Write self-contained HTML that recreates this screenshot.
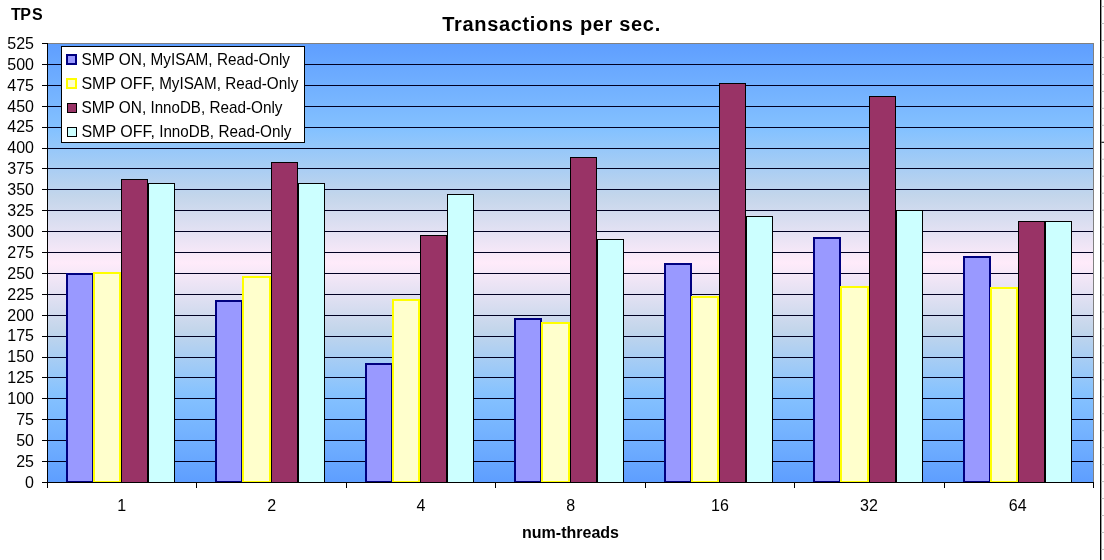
<!DOCTYPE html>
<html><head><meta charset="utf-8"><title>Transactions per sec.</title>
<style>html,body{margin:0;padding:0;background:#fff;}body{width:1104px;height:560px;overflow:hidden;font-family:"Liberation Sans",sans-serif;}svg{display:block;}text{font-family:"Liberation Sans",sans-serif;fill:#000;}svg{will-change:transform;}</style>
</head><body>
<svg width="1104" height="560" viewBox="0 0 1104 560">
<defs><linearGradient id="bg" x1="0" y1="0" x2="0" y2="1">
<stop offset="0" stop-color="#5E9EFF"/>
<stop offset="0.2" stop-color="#85C2FF"/>
<stop offset="0.35" stop-color="#C4D6EB"/>
<stop offset="0.5" stop-color="#FFEBFA"/>
<stop offset="0.65" stop-color="#C4D6EB"/>
<stop offset="0.8" stop-color="#85C2FF"/>
<stop offset="1" stop-color="#5E9EFF"/>
</linearGradient></defs>
<rect x="0" y="0" width="1104" height="560" fill="#fff"/>
<rect x="47.0" y="43.0" width="1047.0" height="439.5" fill="url(#bg)"/>
<rect x="47.0" y="43.0" width="1047.0" height="1" fill="#808080"/>
<rect x="1093.0" y="43.0" width="1" height="439.0" fill="#808080"/>
<g fill="#000">
<rect x="42.0" y="482" width="6" height="1"/>
<rect x="47.0" y="461" width="1046.0" height="1" fill="#000022"/>
<rect x="42.0" y="461" width="6" height="1"/>
<rect x="47.0" y="440" width="1046.0" height="1" fill="#000022"/>
<rect x="42.0" y="440" width="6" height="1"/>
<rect x="47.0" y="419" width="1046.0" height="1" fill="#000022"/>
<rect x="42.0" y="419" width="6" height="1"/>
<rect x="47.0" y="398" width="1046.0" height="1" fill="#000022"/>
<rect x="42.0" y="398" width="6" height="1"/>
<rect x="47.0" y="377" width="1046.0" height="1" fill="#000022"/>
<rect x="42.0" y="377" width="6" height="1"/>
<rect x="47.0" y="357" width="1046.0" height="1" fill="#000022"/>
<rect x="42.0" y="357" width="6" height="1"/>
<rect x="47.0" y="336" width="1046.0" height="1" fill="#000022"/>
<rect x="42.0" y="336" width="6" height="1"/>
<rect x="47.0" y="315" width="1046.0" height="1" fill="#000022"/>
<rect x="42.0" y="315" width="6" height="1"/>
<rect x="47.0" y="294" width="1046.0" height="1" fill="#000022"/>
<rect x="42.0" y="294" width="6" height="1"/>
<rect x="47.0" y="273" width="1046.0" height="1" fill="#000022"/>
<rect x="42.0" y="273" width="6" height="1"/>
<rect x="47.0" y="252" width="1046.0" height="1" fill="#000022"/>
<rect x="42.0" y="252" width="6" height="1"/>
<rect x="47.0" y="231" width="1046.0" height="1" fill="#000022"/>
<rect x="42.0" y="231" width="6" height="1"/>
<rect x="47.0" y="210" width="1046.0" height="1" fill="#000022"/>
<rect x="42.0" y="210" width="6" height="1"/>
<rect x="47.0" y="189" width="1046.0" height="1" fill="#000022"/>
<rect x="42.0" y="189" width="6" height="1"/>
<rect x="47.0" y="168" width="1046.0" height="1" fill="#000022"/>
<rect x="42.0" y="168" width="6" height="1"/>
<rect x="47.0" y="148" width="1046.0" height="1" fill="#000022"/>
<rect x="42.0" y="148" width="6" height="1"/>
<rect x="47.0" y="127" width="1046.0" height="1" fill="#000022"/>
<rect x="42.0" y="127" width="6" height="1"/>
<rect x="47.0" y="106" width="1046.0" height="1" fill="#000022"/>
<rect x="42.0" y="106" width="6" height="1"/>
<rect x="47.0" y="85" width="1046.0" height="1" fill="#000022"/>
<rect x="42.0" y="85" width="6" height="1"/>
<rect x="47.0" y="64" width="1046.0" height="1" fill="#000022"/>
<rect x="42.0" y="64" width="6" height="1"/>
<rect x="42.0" y="43" width="6" height="1"/>
</g>
<g shape-rendering="crispEdges">
<rect x="66" y="273" width="28" height="210" fill="#000080"/>
<rect x="68" y="275" width="24" height="206" fill="#9999FF"/>
<rect x="93" y="272" width="28" height="211" fill="#FFFF00"/>
<rect x="95" y="274" width="24" height="207" fill="#FFFFCC"/>
<rect x="121" y="179" width="27" height="303" fill="#000000"/>
<rect x="122" y="180" width="25" height="302" fill="#993366"/>
<rect x="148" y="183" width="27" height="299" fill="#000000"/>
<rect x="149" y="184" width="25" height="298" fill="#CCFFFF"/>
<rect x="215" y="300" width="28" height="183" fill="#000080"/>
<rect x="217" y="302" width="24" height="179" fill="#9999FF"/>
<rect x="242" y="276" width="29" height="207" fill="#FFFF00"/>
<rect x="244" y="278" width="25" height="203" fill="#FFFFCC"/>
<rect x="271" y="162" width="27" height="320" fill="#000000"/>
<rect x="272" y="163" width="25" height="319" fill="#993366"/>
<rect x="298" y="183" width="27" height="299" fill="#000000"/>
<rect x="299" y="184" width="25" height="298" fill="#CCFFFF"/>
<rect x="365" y="363" width="28" height="120" fill="#000080"/>
<rect x="367" y="365" width="24" height="116" fill="#9999FF"/>
<rect x="392" y="299" width="28" height="184" fill="#FFFF00"/>
<rect x="394" y="301" width="24" height="180" fill="#FFFFCC"/>
<rect x="420" y="235" width="27" height="247" fill="#000000"/>
<rect x="421" y="236" width="25" height="246" fill="#993366"/>
<rect x="447" y="194" width="27" height="288" fill="#000000"/>
<rect x="448" y="195" width="25" height="287" fill="#CCFFFF"/>
<rect x="514" y="318" width="28" height="165" fill="#000080"/>
<rect x="516" y="320" width="24" height="161" fill="#9999FF"/>
<rect x="541" y="322" width="29" height="161" fill="#FFFF00"/>
<rect x="543" y="324" width="25" height="157" fill="#FFFFCC"/>
<rect x="570" y="157" width="27" height="325" fill="#000000"/>
<rect x="571" y="158" width="25" height="324" fill="#993366"/>
<rect x="597" y="239" width="27" height="243" fill="#000000"/>
<rect x="598" y="240" width="25" height="242" fill="#CCFFFF"/>
<rect x="664" y="263" width="28" height="220" fill="#000080"/>
<rect x="666" y="265" width="24" height="216" fill="#9999FF"/>
<rect x="691" y="296" width="28" height="187" fill="#FFFF00"/>
<rect x="693" y="298" width="24" height="183" fill="#FFFFCC"/>
<rect x="719" y="83" width="27" height="399" fill="#000000"/>
<rect x="720" y="84" width="25" height="398" fill="#993366"/>
<rect x="746" y="216" width="27" height="266" fill="#000000"/>
<rect x="747" y="217" width="25" height="265" fill="#CCFFFF"/>
<rect x="813" y="237" width="28" height="246" fill="#000080"/>
<rect x="815" y="239" width="24" height="242" fill="#9999FF"/>
<rect x="840" y="286" width="29" height="197" fill="#FFFF00"/>
<rect x="842" y="288" width="25" height="193" fill="#FFFFCC"/>
<rect x="869" y="96" width="27" height="386" fill="#000000"/>
<rect x="870" y="97" width="25" height="385" fill="#993366"/>
<rect x="896" y="210" width="27" height="272" fill="#000000"/>
<rect x="897" y="211" width="25" height="271" fill="#CCFFFF"/>
<rect x="963" y="256" width="28" height="227" fill="#000080"/>
<rect x="965" y="258" width="24" height="223" fill="#9999FF"/>
<rect x="990" y="287" width="28" height="196" fill="#FFFF00"/>
<rect x="992" y="289" width="24" height="192" fill="#FFFFCC"/>
<rect x="1018" y="221" width="27" height="261" fill="#000000"/>
<rect x="1019" y="222" width="25" height="260" fill="#993366"/>
<rect x="1045" y="221" width="27" height="261" fill="#000000"/>
<rect x="1046" y="222" width="25" height="260" fill="#CCFFFF"/>
</g>
<rect x="47.0" y="43.0" width="1" height="445.0" fill="#000"/>
<rect x="47.0" y="482.0" width="1047.0" height="1" fill="#000"/>
<rect x="196" y="482.0" width="1" height="6" fill="#000"/>
<rect x="346" y="482.0" width="1" height="6" fill="#000"/>
<rect x="495" y="482.0" width="1" height="6" fill="#000"/>
<rect x="645" y="482.0" width="1" height="6" fill="#000"/>
<rect x="794" y="482.0" width="1" height="6" fill="#000"/>
<rect x="944" y="482.0" width="1" height="6" fill="#000"/>
<rect x="1093" y="482.0" width="1" height="6" fill="#000"/>
<g font-size="16" text-anchor="end">
<text x="34" y="487.7">0</text>
<text x="34" y="466.8">25</text>
<text x="34" y="445.9">50</text>
<text x="34" y="425.0">75</text>
<text x="34" y="404.1">100</text>
<text x="34" y="383.2">125</text>
<text x="34" y="362.3">150</text>
<text x="34" y="341.4">175</text>
<text x="34" y="320.5">200</text>
<text x="34" y="299.6">225</text>
<text x="34" y="278.7">250</text>
<text x="34" y="257.8">275</text>
<text x="34" y="236.9">300</text>
<text x="34" y="216.0">325</text>
<text x="34" y="195.1">350</text>
<text x="34" y="174.2">375</text>
<text x="34" y="153.3">400</text>
<text x="34" y="132.4">425</text>
<text x="34" y="111.5">450</text>
<text x="34" y="90.6">475</text>
<text x="34" y="69.7">500</text>
<text x="34" y="48.8">525</text>
</g>
<g font-size="16" text-anchor="middle">
<text x="121.6" y="510.5">1</text>
<text x="271.6" y="510.5">2</text>
<text x="421.0" y="510.5">4</text>
<text x="570.6" y="510.5">8</text>
<text x="720.0" y="510.5">16</text>
<text x="869.0" y="510.5">32</text>
<text x="1017.7" y="510.5">64</text>
</g>
<text x="442.2" y="30.6" font-size="20" font-weight="bold" textLength="218" lengthAdjust="spacing">Transactions per sec.</text>
<text x="11.0 20.3 31.9" y="19.7" font-size="16" font-weight="bold">TPS</text>
<text x="522" y="537.9" font-size="16" font-weight="bold" textLength="97" lengthAdjust="spacing">num-threads</text>
<rect x="61.5" y="46.5" width="243" height="96" fill="#fff" stroke="#000" stroke-width="1" shape-rendering="crispEdges"/>
<rect x="66" y="54" width="11" height="11" fill="#000080" shape-rendering="crispEdges"/>
<rect x="68" y="56" width="7" height="7" fill="#9999FF" shape-rendering="crispEdges"/>
<text x="81.4" y="65.0" font-size="15.7" textLength="64.8" lengthAdjust="spacingAndGlyphs">SMP ON,</text>
<text x="150.5" y="65.0" font-size="15.7" textLength="62.1" lengthAdjust="spacingAndGlyphs">MyISAM,</text>
<text x="216.9" y="65.0" font-size="15.7" textLength="73.1" lengthAdjust="spacingAndGlyphs">Read-Only</text>
<rect x="66" y="78" width="11" height="11" fill="#FFFF00" shape-rendering="crispEdges"/>
<rect x="68" y="80" width="7" height="7" fill="#FFFFCC" shape-rendering="crispEdges"/>
<text x="81.4" y="88.9" font-size="15.7" textLength="73.5" lengthAdjust="spacingAndGlyphs">SMP OFF,</text>
<text x="159.2" y="88.9" font-size="15.7" textLength="61.7" lengthAdjust="spacingAndGlyphs">MyISAM,</text>
<text x="225.2" y="88.9" font-size="15.7" textLength="73.1" lengthAdjust="spacingAndGlyphs">Read-Only</text>
<rect x="67" y="103" width="10" height="10" fill="#000000" shape-rendering="crispEdges"/>
<rect x="68" y="104" width="8" height="8" fill="#993366" shape-rendering="crispEdges"/>
<text x="81.4" y="112.8" font-size="15.7" textLength="64.8" lengthAdjust="spacingAndGlyphs">SMP ON,</text>
<text x="150.5" y="112.8" font-size="15.7" textLength="54.6" lengthAdjust="spacingAndGlyphs">InnoDB,</text>
<text x="209.4" y="112.8" font-size="15.7" textLength="73.1" lengthAdjust="spacingAndGlyphs">Read-Only</text>
<rect x="67" y="127" width="10" height="10" fill="#000000" shape-rendering="crispEdges"/>
<rect x="68" y="128" width="8" height="8" fill="#CCFFFF" shape-rendering="crispEdges"/>
<text x="81.4" y="136.7" font-size="15.7" textLength="73.5" lengthAdjust="spacingAndGlyphs">SMP OFF,</text>
<text x="159.2" y="136.7" font-size="15.7" textLength="54.9" lengthAdjust="spacingAndGlyphs">InnoDB,</text>
<text x="218.4" y="136.7" font-size="15.7" textLength="73.1" lengthAdjust="spacingAndGlyphs">Read-Only</text>
<rect x="1100" y="0" width="1.4" height="560" fill="#000"/>
<rect x="1101.4" y="6.05" width="2.6" height="1" fill="#C0C0C0"/>
<rect x="1101.4" y="23.02" width="2.6" height="1" fill="#C0C0C0"/>
<rect x="1101.4" y="39.98" width="2.6" height="1" fill="#C0C0C0"/>
<rect x="1101.4" y="56.94" width="2.6" height="1" fill="#C0C0C0"/>
<rect x="1101.4" y="73.91" width="2.6" height="1" fill="#C0C0C0"/>
<rect x="1101.4" y="90.88" width="2.6" height="1" fill="#C0C0C0"/>
<rect x="1101.4" y="107.84" width="2.6" height="1" fill="#C0C0C0"/>
<rect x="1101.4" y="124.80" width="2.6" height="1" fill="#C0C0C0"/>
<rect x="1101.4" y="141.77" width="2.6" height="1" fill="#000"/>
<rect x="1101.4" y="158.74" width="2.6" height="1" fill="#C0C0C0"/>
<rect x="1101.4" y="175.70" width="2.6" height="1" fill="#C0C0C0"/>
<rect x="1101.4" y="192.67" width="2.6" height="1" fill="#C0C0C0"/>
<rect x="1101.4" y="209.63" width="2.6" height="1" fill="#C0C0C0"/>
<rect x="1101.4" y="226.59" width="2.6" height="1" fill="#C0C0C0"/>
<rect x="1101.4" y="243.56" width="2.6" height="1" fill="#C0C0C0"/>
<rect x="1101.4" y="260.52" width="2.6" height="1" fill="#C0C0C0"/>
<rect x="1101.4" y="277.49" width="2.6" height="1" fill="#C0C0C0"/>
<rect x="1101.4" y="294.45" width="2.6" height="1" fill="#C0C0C0"/>
<rect x="1101.4" y="311.42" width="2.6" height="1" fill="#C0C0C0"/>
<rect x="1101.4" y="328.38" width="2.6" height="1" fill="#C0C0C0"/>
<rect x="1101.4" y="345.35" width="2.6" height="1" fill="#C0C0C0"/>
<rect x="1101.4" y="362.31" width="2.6" height="1" fill="#C0C0C0"/>
<rect x="1101.4" y="379.28" width="2.6" height="1" fill="#C0C0C0"/>
<rect x="1101.4" y="396.25" width="2.6" height="1" fill="#C0C0C0"/>
<rect x="1101.4" y="413.21" width="2.6" height="1" fill="#C0C0C0"/>
<rect x="1101.4" y="430.18" width="2.6" height="1" fill="#C0C0C0"/>
<rect x="1101.4" y="447.14" width="2.6" height="1" fill="#C0C0C0"/>
<rect x="1101.4" y="464.11" width="2.6" height="1" fill="#C0C0C0"/>
<rect x="1101.4" y="481.07" width="2.6" height="1" fill="#C0C0C0"/>
<rect x="1101.4" y="498.04" width="2.6" height="1" fill="#C0C0C0"/>
<rect x="1101.4" y="515.00" width="2.6" height="1" fill="#C0C0C0"/>
<rect x="1101.4" y="531.96" width="2.6" height="1" fill="#C0C0C0"/>
<rect x="1101.4" y="548.93" width="2.6" height="1" fill="#C0C0C0"/>
</svg>
</body></html>
